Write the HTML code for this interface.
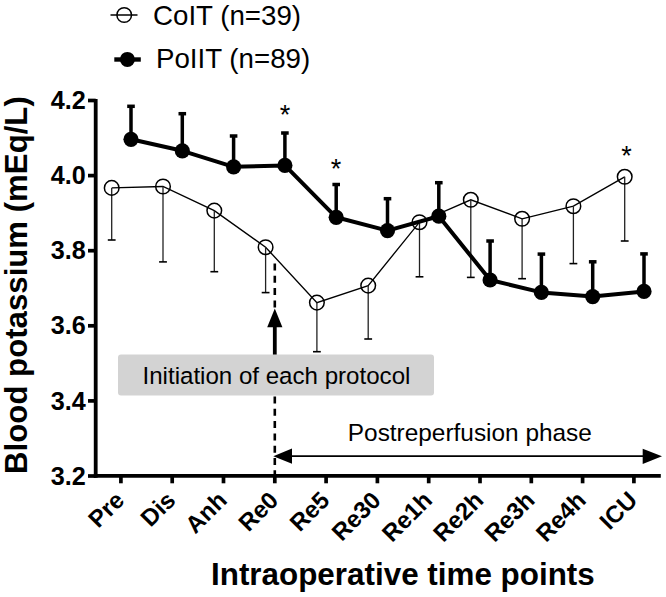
<!DOCTYPE html>
<html><head><meta charset="utf-8"><style>
html,body{margin:0;padding:0;background:#fff;}
svg{display:block;}
text{font-family:"Liberation Sans",sans-serif;}
</style></head><body>
<svg width="666" height="597" viewBox="0 0 666 597">
<rect width="666" height="597" fill="#fff"/>
<line x1="95.7" y1="99" x2="95.7" y2="477.84999999999997" stroke="#000" stroke-width="3.8"/>
<line x1="93.8" y1="475.9" x2="660.8" y2="475.9" stroke="#000" stroke-width="3.9"/>
<line x1="88" y1="100.5" x2="95.7" y2="100.5" stroke="#000" stroke-width="3.7"/>
<text x="85.8" y="109.1" text-anchor="end" font-size="25.2" font-weight="bold" font-family="Liberation Sans, sans-serif">4.2</text>
<line x1="88" y1="175.6" x2="95.7" y2="175.6" stroke="#000" stroke-width="3.7"/>
<text x="85.8" y="184.2" text-anchor="end" font-size="25.2" font-weight="bold" font-family="Liberation Sans, sans-serif">4.0</text>
<line x1="88" y1="250.7" x2="95.7" y2="250.7" stroke="#000" stroke-width="3.7"/>
<text x="85.8" y="259.3" text-anchor="end" font-size="25.2" font-weight="bold" font-family="Liberation Sans, sans-serif">3.8</text>
<line x1="88" y1="325.8" x2="95.7" y2="325.8" stroke="#000" stroke-width="3.7"/>
<text x="85.8" y="334.4" text-anchor="end" font-size="25.2" font-weight="bold" font-family="Liberation Sans, sans-serif">3.6</text>
<line x1="88" y1="400.9" x2="95.7" y2="400.9" stroke="#000" stroke-width="3.7"/>
<text x="85.8" y="409.5" text-anchor="end" font-size="25.2" font-weight="bold" font-family="Liberation Sans, sans-serif">3.4</text>
<line x1="88" y1="476.0" x2="95.7" y2="476.0" stroke="#000" stroke-width="3.7"/>
<text x="85.8" y="484.6" text-anchor="end" font-size="25.2" font-weight="bold" font-family="Liberation Sans, sans-serif">3.2</text>
<line x1="120.9" y1="475.9" x2="120.9" y2="483.3" stroke="#000" stroke-width="3.7"/>
<text transform="translate(125.7,501.7) rotate(-45)" text-anchor="end" font-size="24" font-weight="bold" font-family="Liberation Sans, sans-serif">Pre</text>
<line x1="172.2" y1="475.9" x2="172.2" y2="483.3" stroke="#000" stroke-width="3.7"/>
<text transform="translate(177.0,501.7) rotate(-45)" text-anchor="end" font-size="24" font-weight="bold" font-family="Liberation Sans, sans-serif">Dis</text>
<line x1="223.5" y1="475.9" x2="223.5" y2="483.3" stroke="#000" stroke-width="3.7"/>
<text transform="translate(228.3,501.7) rotate(-45)" text-anchor="end" font-size="24" font-weight="bold" font-family="Liberation Sans, sans-serif">Anh</text>
<line x1="274.8" y1="475.9" x2="274.8" y2="483.3" stroke="#000" stroke-width="3.7"/>
<text transform="translate(279.6,501.7) rotate(-45)" text-anchor="end" font-size="24" font-weight="bold" font-family="Liberation Sans, sans-serif">Re0</text>
<line x1="326.1" y1="475.9" x2="326.1" y2="483.3" stroke="#000" stroke-width="3.7"/>
<text transform="translate(330.9,501.7) rotate(-45)" text-anchor="end" font-size="24" font-weight="bold" font-family="Liberation Sans, sans-serif">Re5</text>
<line x1="377.4" y1="475.9" x2="377.4" y2="483.3" stroke="#000" stroke-width="3.7"/>
<text transform="translate(382.2,501.7) rotate(-45)" text-anchor="end" font-size="24" font-weight="bold" font-family="Liberation Sans, sans-serif">Re30</text>
<line x1="428.7" y1="475.9" x2="428.7" y2="483.3" stroke="#000" stroke-width="3.7"/>
<text transform="translate(433.5,501.7) rotate(-45)" text-anchor="end" font-size="24" font-weight="bold" font-family="Liberation Sans, sans-serif">Re1h</text>
<line x1="480.0" y1="475.9" x2="480.0" y2="483.3" stroke="#000" stroke-width="3.7"/>
<text transform="translate(484.8,501.7) rotate(-45)" text-anchor="end" font-size="24" font-weight="bold" font-family="Liberation Sans, sans-serif">Re2h</text>
<line x1="531.3" y1="475.9" x2="531.3" y2="483.3" stroke="#000" stroke-width="3.7"/>
<text transform="translate(536.1,501.7) rotate(-45)" text-anchor="end" font-size="24" font-weight="bold" font-family="Liberation Sans, sans-serif">Re3h</text>
<line x1="582.6" y1="475.9" x2="582.6" y2="483.3" stroke="#000" stroke-width="3.7"/>
<text transform="translate(587.4,501.7) rotate(-45)" text-anchor="end" font-size="24" font-weight="bold" font-family="Liberation Sans, sans-serif">Re4h</text>
<line x1="633.9" y1="475.9" x2="633.9" y2="483.3" stroke="#000" stroke-width="3.7"/>
<text transform="translate(638.7,501.7) rotate(-45)" text-anchor="end" font-size="24" font-weight="bold" font-family="Liberation Sans, sans-serif">ICU</text>
<line x1="274.8" y1="263.5" x2="274.8" y2="309" stroke="#000" stroke-width="2.6" stroke-dasharray="7 5.3"/>
<line x1="274.8" y1="396.5" x2="274.8" y2="474" stroke="#000" stroke-width="2.6" stroke-dasharray="7 5.3"/>
<line x1="274.8" y1="320" x2="274.8" y2="355" stroke="#000" stroke-width="3.8"/>
<polygon points="274.8,308.5 267.2,327.3 282.40000000000003,327.3" fill="#000"/>
<rect x="118" y="354.5" width="316" height="41" rx="3" fill="#d3d3d3"/>
<text x="142.5" y="383.8" font-size="24.1" font-family="Liberation Sans, sans-serif">Initiation of each protocol</text>
<line x1="285" y1="456.2" x2="650" y2="456.2" stroke="#000" stroke-width="1.8"/>
<polygon points="273.3,456.2 292,448.6 292,463.8" fill="#000"/>
<polygon points="662,456.2 642.7,448.8 642.7,464" fill="#000"/>
<text x="347.8" y="440.7" font-size="24.4" font-family="Liberation Sans, sans-serif">Postreperfusion phase</text>
<polyline points="111.7,187.9 163.0,186.5 214.3,210.6 265.6,247.2 316.9,302.6 368.2,285.6 419.5,222.2 470.8,199.8 522.1,218.8 573.4,206.2 624.7,176.8" fill="none" stroke="#000" stroke-width="1.35"/>
<line x1="111.7" y1="187.9" x2="111.7" y2="240" stroke="#222" stroke-width="1.3"/>
<line x1="107.8" y1="240" x2="115.6" y2="240" stroke="#000" stroke-width="1.6"/>
<circle cx="111.7" cy="187.9" r="7.3" fill="none" stroke="#000" stroke-width="1.5"/>
<line x1="163.0" y1="186.5" x2="163.0" y2="261.9" stroke="#222" stroke-width="1.3"/>
<line x1="159.1" y1="261.9" x2="166.9" y2="261.9" stroke="#000" stroke-width="1.6"/>
<circle cx="163.0" cy="186.5" r="7.3" fill="none" stroke="#000" stroke-width="1.5"/>
<line x1="214.3" y1="210.6" x2="214.3" y2="271.7" stroke="#222" stroke-width="1.3"/>
<line x1="210.4" y1="271.7" x2="218.2" y2="271.7" stroke="#000" stroke-width="1.6"/>
<circle cx="214.3" cy="210.6" r="7.3" fill="none" stroke="#000" stroke-width="1.5"/>
<line x1="265.6" y1="247.2" x2="265.6" y2="292.6" stroke="#222" stroke-width="1.3"/>
<line x1="261.7" y1="292.6" x2="269.5" y2="292.6" stroke="#000" stroke-width="1.6"/>
<circle cx="265.6" cy="247.2" r="7.3" fill="none" stroke="#000" stroke-width="1.5"/>
<line x1="316.9" y1="302.6" x2="316.9" y2="351.7" stroke="#222" stroke-width="1.3"/>
<line x1="313.0" y1="351.7" x2="320.8" y2="351.7" stroke="#000" stroke-width="1.6"/>
<circle cx="316.9" cy="302.6" r="7.3" fill="none" stroke="#000" stroke-width="1.5"/>
<line x1="368.2" y1="285.6" x2="368.2" y2="339" stroke="#222" stroke-width="1.3"/>
<line x1="364.3" y1="339" x2="372.1" y2="339" stroke="#000" stroke-width="1.6"/>
<circle cx="368.2" cy="285.6" r="7.3" fill="none" stroke="#000" stroke-width="1.5"/>
<line x1="419.5" y1="222.2" x2="419.5" y2="276.8" stroke="#222" stroke-width="1.3"/>
<line x1="415.6" y1="276.8" x2="423.4" y2="276.8" stroke="#000" stroke-width="1.6"/>
<circle cx="419.5" cy="222.2" r="7.3" fill="none" stroke="#000" stroke-width="1.5"/>
<line x1="470.8" y1="199.8" x2="470.8" y2="277.4" stroke="#222" stroke-width="1.3"/>
<line x1="466.9" y1="277.4" x2="474.7" y2="277.4" stroke="#000" stroke-width="1.6"/>
<circle cx="470.8" cy="199.8" r="7.3" fill="none" stroke="#000" stroke-width="1.5"/>
<line x1="522.1" y1="218.8" x2="522.1" y2="278.7" stroke="#222" stroke-width="1.3"/>
<line x1="518.2" y1="278.7" x2="526.0" y2="278.7" stroke="#000" stroke-width="1.6"/>
<circle cx="522.1" cy="218.8" r="7.3" fill="none" stroke="#000" stroke-width="1.5"/>
<line x1="573.4" y1="206.2" x2="573.4" y2="263.6" stroke="#222" stroke-width="1.3"/>
<line x1="569.5" y1="263.6" x2="577.3" y2="263.6" stroke="#000" stroke-width="1.6"/>
<circle cx="573.4" cy="206.2" r="7.3" fill="none" stroke="#000" stroke-width="1.5"/>
<line x1="624.7" y1="176.8" x2="624.7" y2="241" stroke="#222" stroke-width="1.3"/>
<line x1="620.8" y1="241" x2="628.6" y2="241" stroke="#000" stroke-width="1.6"/>
<circle cx="624.7" cy="176.8" r="7.3" fill="none" stroke="#000" stroke-width="1.5"/>
<polyline points="131.0,139.3 182.3,150.8 233.6,166.8 284.9,165.4 336.2,217.3 387.5,230.6 438.8,216.2 490.1,280 541.4,292.4 592.7,296.6 644.0,291.4" fill="none" stroke="#000" stroke-width="4.0" stroke-linejoin="round"/>
<line x1="131.0" y1="139.3" x2="131.0" y2="106.3" stroke="#000" stroke-width="3.5"/>
<line x1="127.2" y1="106.3" x2="134.8" y2="106.3" stroke="#000" stroke-width="3.5"/>
<circle cx="131.0" cy="139.3" r="7.6" fill="#000"/>
<line x1="182.3" y1="150.8" x2="182.3" y2="113.7" stroke="#000" stroke-width="3.5"/>
<line x1="178.5" y1="113.7" x2="186.1" y2="113.7" stroke="#000" stroke-width="3.5"/>
<circle cx="182.3" cy="150.8" r="7.6" fill="#000"/>
<line x1="233.6" y1="166.8" x2="233.6" y2="136" stroke="#000" stroke-width="3.5"/>
<line x1="229.8" y1="136" x2="237.4" y2="136" stroke="#000" stroke-width="3.5"/>
<circle cx="233.6" cy="166.8" r="7.6" fill="#000"/>
<line x1="284.9" y1="165.4" x2="284.9" y2="133" stroke="#000" stroke-width="3.5"/>
<line x1="281.1" y1="133" x2="288.7" y2="133" stroke="#000" stroke-width="3.5"/>
<circle cx="284.9" cy="165.4" r="7.6" fill="#000"/>
<line x1="336.2" y1="217.3" x2="336.2" y2="184.5" stroke="#000" stroke-width="3.5"/>
<line x1="332.4" y1="184.5" x2="340.0" y2="184.5" stroke="#000" stroke-width="3.5"/>
<circle cx="336.2" cy="217.3" r="7.6" fill="#000"/>
<line x1="387.5" y1="230.6" x2="387.5" y2="198.7" stroke="#000" stroke-width="3.5"/>
<line x1="383.7" y1="198.7" x2="391.3" y2="198.7" stroke="#000" stroke-width="3.5"/>
<circle cx="387.5" cy="230.6" r="7.6" fill="#000"/>
<line x1="438.8" y1="216.2" x2="438.8" y2="182.7" stroke="#000" stroke-width="3.5"/>
<line x1="435.0" y1="182.7" x2="442.6" y2="182.7" stroke="#000" stroke-width="3.5"/>
<circle cx="438.8" cy="216.2" r="7.6" fill="#000"/>
<line x1="490.1" y1="280" x2="490.1" y2="241" stroke="#000" stroke-width="3.5"/>
<line x1="486.3" y1="241" x2="493.9" y2="241" stroke="#000" stroke-width="3.5"/>
<circle cx="490.1" cy="280" r="7.6" fill="#000"/>
<line x1="541.4" y1="292.4" x2="541.4" y2="254.1" stroke="#000" stroke-width="3.5"/>
<line x1="537.6" y1="254.1" x2="545.2" y2="254.1" stroke="#000" stroke-width="3.5"/>
<circle cx="541.4" cy="292.4" r="7.6" fill="#000"/>
<line x1="592.7" y1="296.6" x2="592.7" y2="261.8" stroke="#000" stroke-width="3.5"/>
<line x1="588.9" y1="261.8" x2="596.5" y2="261.8" stroke="#000" stroke-width="3.5"/>
<circle cx="592.7" cy="296.6" r="7.6" fill="#000"/>
<line x1="644.0" y1="291.4" x2="644.0" y2="253.9" stroke="#000" stroke-width="3.5"/>
<line x1="640.2" y1="253.9" x2="647.8" y2="253.9" stroke="#000" stroke-width="3.5"/>
<circle cx="644.0" cy="291.4" r="7.6" fill="#000"/>
<text x="285" y="124" text-anchor="middle" font-size="27" font-family="Liberation Sans, sans-serif">*</text>
<text x="336" y="178.3" text-anchor="middle" font-size="27" font-family="Liberation Sans, sans-serif">*</text>
<text x="626.5" y="164.5" text-anchor="middle" font-size="27" font-family="Liberation Sans, sans-serif">*</text>
<line x1="110.5" y1="15" x2="137.5" y2="15" stroke="#000" stroke-width="1.5"/>
<circle cx="124.2" cy="15" r="7.3" fill="none" stroke="#000" stroke-width="1.5"/>
<text x="153" y="24.8" font-size="27.7" font-family="Liberation Sans, sans-serif">CoIT (n=39)</text>
<line x1="114.3" y1="59.5" x2="140.8" y2="59.5" stroke="#000" stroke-width="4.4"/>
<circle cx="127.4" cy="59.4" r="7.5" fill="#000"/>
<text x="156" y="68.3" font-size="27.7" font-family="Liberation Sans, sans-serif">PoIIT (n=89)</text>
<text transform="translate(27.2,473.9) rotate(-90)" font-size="31.2" font-weight="bold" font-family="Liberation Sans, sans-serif">Blood potassium (mEq/L)</text>
<text x="211" y="585" font-size="31.4" font-weight="bold" font-family="Liberation Sans, sans-serif">Intraoperative time points</text>
</svg>
</body></html>
